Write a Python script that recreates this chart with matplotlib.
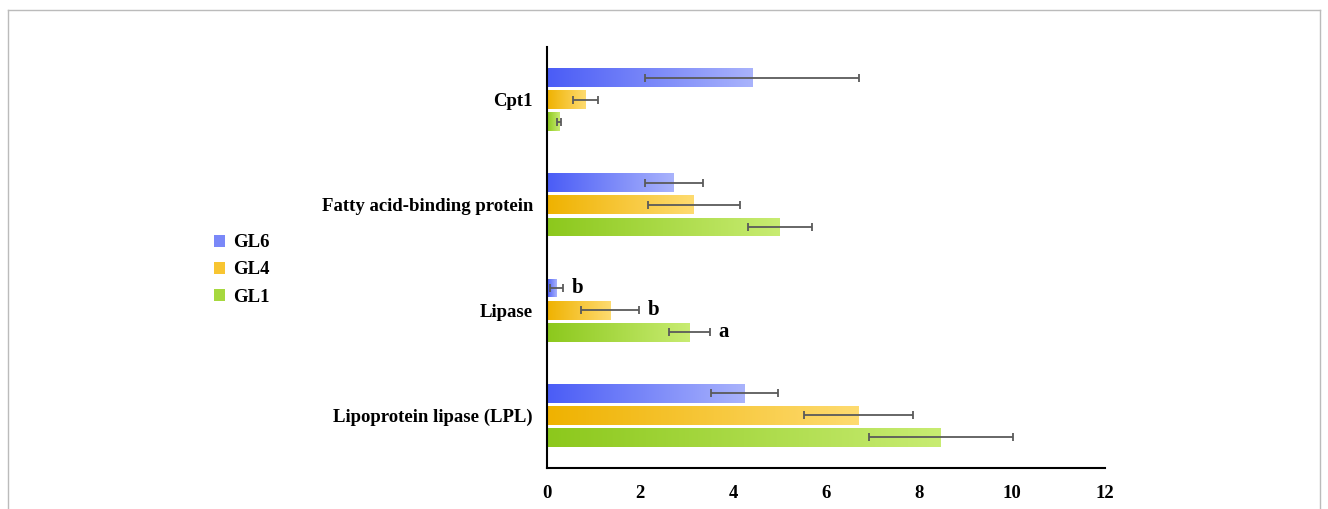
import matplotlib
matplotlib.use("Agg")
import matplotlib.pyplot as plt
import numpy as np
from matplotlib.colors import LinearSegmentedColormap
from matplotlib.patches import Patch
from matplotlib.lines import Line2D

plt.rcParams['font.family'] = ['Liberation Serif', 'DejaVu Serif']
plt.rcParams['font.weight'] = 'bold'

# data (bottom to top)
genes = ["Lipoprotein lipase (LPL)", "Lipase", "Fatty acid-binding protein", "Cpt1"]
series = ["GL6", "GL4", "GL1"]
gl6 = [4.24, 0.21, 2.73, 4.41]
gl6_err = [0.72, 0.14, 0.63, 2.31]
gl4 = [6.70, 1.36, 3.16, 0.82]
gl4_err = [1.17, 0.62, 0.99, 0.27]
gl1 = [8.47, 3.07, 5.01, 0.26]
gl1_err = [1.55, 0.44, 0.69, 0.04]
letters = {"GL6": ["", "b", "", ""], "GL4": ["", "b", "", ""], "GL1": ["", "a", "", ""]}

values = {"GL6": gl6, "GL4": gl4, "GL1": gl1}
errors = {"GL6": gl6_err, "GL4": gl4_err, "GL1": gl1_err}
# gradient colours: dark (left) -> light (right)
grad = {"GL6": ("#4a5cf6", "#a9b3fc"),
        "GL4": ("#efb200", "#fedb70"),
        "GL1": ("#8cc81c", "#c8ec72")}
solid = {"GL6": "#7a88f8", "GL4": "#f8c531", "GL1": "#a6d83e"}
offsets = {"GL6": 0.21, "GL4": 0.0, "GL1": -0.21}
bar_h = 0.18

fig = plt.figure(figsize=(13.28, 5.09), dpi=100)
ax = fig.add_axes([547 / 1328, 1 - 468 / 509, 558 / 1328, 421 / 509])

y = np.arange(len(genes))
g = np.linspace(0, 1, 256).reshape(1, -1)
for s in series:
    yy = y + offsets[s]
    bars = ax.barh(yy, values[s], height=bar_h, color="none", edgecolor="none")
    cmap = LinearSegmentedColormap.from_list(s, grad[s])
    for b in bars:
        x0, y0 = b.get_x(), b.get_y()
        w, h = b.get_width(), b.get_height()
        im = ax.imshow(g, cmap=cmap, aspect="auto", extent=(x0, x0 + w, y0, y0 + h),
                       zorder=2, interpolation="bilinear")
        im.set_clip_path(b)
    ax.errorbar(values[s], yy, xerr=errors[s], fmt="none", ecolor="#5a5a5a",
                elinewidth=1.3, capsize=3, capthick=1.3, zorder=3)
    for i, lab in enumerate(letters[s]):
        if lab:
            ax.annotate(lab, (values[s][i] + errors[s][i], yy[i]), xytext=(6, 0),
                        textcoords="offset points", ha="left", va="center",
                        fontsize=15, fontweight="bold", zorder=4)

ax.set_xlim(0, 12)
ax.set_ylim(-0.5, 3.5)
ax.set_xticks(np.arange(0, 13, 2))
ax.set_yticks(y)
ax.set_yticklabels(genes)
ax.tick_params(length=0, labelsize=13.5)
ax.tick_params(axis="x", pad=12)
ax.tick_params(axis="y", pad=10)
for lab in ax.get_xticklabels() + ax.get_yticklabels():
    lab.set_fontweight("bold")
ax.spines["top"].set_visible(False)
ax.spines["right"].set_visible(False)
ax.spines["left"].set_linewidth(1.5)
ax.spines["bottom"].set_linewidth(1.5)

handles = [Patch(facecolor=solid[s], edgecolor="none", label=s) for s in series]
fig.legend(handles=handles, loc="center left", bbox_to_anchor=(197 / 1328, 1 - 270 / 509),
           frameon=False, prop={"family": "Liberation Serif", "weight": "bold", "size": 13.5},
           handlelength=0.6, handleheight=0.6, handletextpad=0.4, labelspacing=0.55)

# outer frame
fig.add_artist(Line2D([8 / 1328, 1320 / 1328], [1 - 10 / 509, 1 - 10 / 509],
                      transform=fig.transFigure, color="#bbbbbb", lw=1))
fig.add_artist(Line2D([8 / 1328, 8 / 1328], [0, 1 - 10 / 509],
                      transform=fig.transFigure, color="#bbbbbb", lw=1))
fig.add_artist(Line2D([1320 / 1328, 1320 / 1328], [0, 1 - 10 / 509],
                      transform=fig.transFigure, color="#bbbbbb", lw=1))

fig.savefig("out.png", dpi=100)
